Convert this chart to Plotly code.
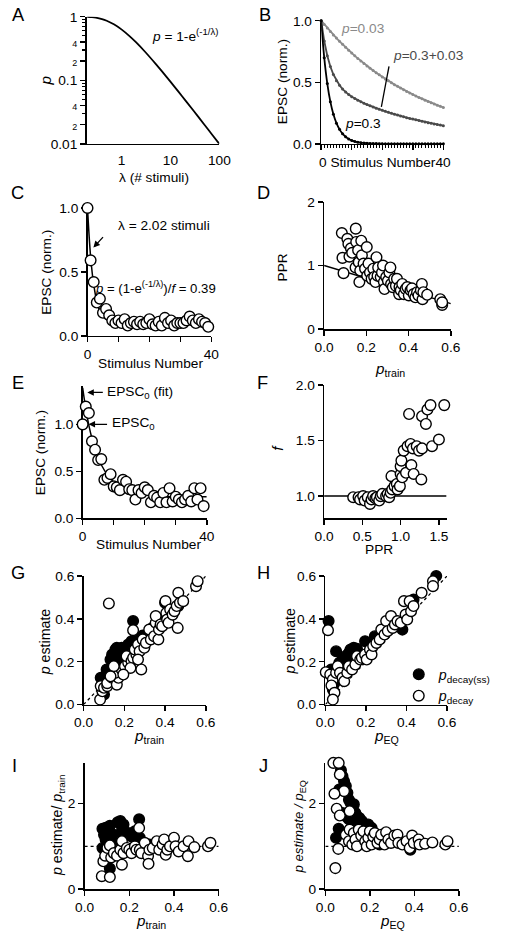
import plotly.graph_objects as go

# ---------------- DATA ----------------
# A
A_lambda = [0.2, 0.25, 0.3, 0.4, 0.5, 0.7, 1, 1.5, 2, 3, 5, 7, 10, 15, 20, 30, 50, 70, 100]
A_p = [0.9933, 0.9817, 0.9643, 0.918, 0.8647, 0.7603, 0.6321, 0.4866, 0.3935, 0.2835, 0.1813,
       0.1331, 0.0952, 0.0645, 0.0488, 0.0328, 0.0198, 0.0142, 0.00995]

# B
B_n = list(range(41))
B_p003 = [1.000, 0.970, 0.941, 0.913, 0.885, 0.859, 0.833, 0.808, 0.784, 0.760, 0.737, 0.715, 0.694,
          0.673, 0.653, 0.633, 0.614, 0.596, 0.578, 0.561, 0.544, 0.527, 0.512, 0.496, 0.481, 0.467,
          0.453, 0.439, 0.426, 0.413, 0.401, 0.389, 0.377, 0.366, 0.355, 0.344, 0.334, 0.324, 0.314,
          0.305, 0.296]
B_p03 = [1.000, 0.700, 0.490, 0.343, 0.240, 0.168, 0.118, 0.082, 0.058, 0.040, 0.028, 0.020, 0.014,
         0.010, 0.007, 0.005, 0.003, 0.002, 0.002, 0.001, 0.001, 0.0, 0.0, 0.0, 0.0, 0.0, 0.0, 0.0,
         0.0, 0.0, 0.0, 0.0, 0.0, 0.0, 0.0, 0.0, 0.0, 0.0, 0.0, 0.0, 0.0]
B_mix = [1.000, 0.835, 0.716, 0.628, 0.563, 0.513, 0.476, 0.445, 0.421, 0.400, 0.383, 0.368, 0.354,
         0.342, 0.330, 0.319, 0.309, 0.299, 0.290, 0.281, 0.272, 0.264, 0.256, 0.248, 0.241, 0.234,
         0.227, 0.220, 0.213, 0.207, 0.201, 0.195, 0.189, 0.183, 0.178, 0.172, 0.167, 0.162, 0.157,
         0.153, 0.148]

# C
C_n = list(range(40))
C_epsc = [1.0, 0.59, 0.42, 0.26, 0.29, 0.18, 0.21, 0.16, 0.12, 0.10, 0.12, 0.10, 0.13, 0.08, 0.10,
          0.11, 0.09, 0.11, 0.09, 0.10, 0.13, 0.09, 0.08, 0.11, 0.08, 0.14, 0.10, 0.12, 0.08, 0.10,
          0.10, 0.10, 0.12, 0.15, 0.12, 0.10, 0.13, 0.11, 0.10, 0.07]
C_fit_n = [0, 1, 2, 3, 4, 5, 6]
C_fit = [1.0, 0.62, 0.40, 0.27, 0.19, 0.15, 0.13]

# D
D_p = [0.084, 0.087, 0.092, 0.11, 0.115, 0.12, 0.127, 0.133, 0.15, 0.149, 0.152, 0.161, 0.164, 0.167,
       0.171, 0.176, 0.179, 0.187, 0.194, 0.202, 0.204, 0.21, 0.217, 0.225, 0.233, 0.237, 0.243,
       0.248, 0.253, 0.256, 0.268, 0.274, 0.279, 0.283, 0.286, 0.294, 0.302, 0.309, 0.314, 0.317,
       0.325, 0.332, 0.34, 0.345, 0.355, 0.357, 0.363, 0.37, 0.378, 0.386, 0.394, 0.401, 0.409,
       0.416, 0.424, 0.432, 0.44, 0.447, 0.458, 0.463, 0.466, 0.47, 0.488, 0.55, 0.559, 0.559]
D_ppr = [1.51, 1.12, 0.88, 1.42, 1.34, 1.14, 1.27, 1.20, 1.58, 0.97, 1.37, 1.24, 1.05, 0.74, 0.92,
         1.39, 1.16, 1.03, 0.95, 1.29, 0.84, 1.03, 0.89, 0.79, 0.95, 0.82, 0.74, 1.13, 0.84, 0.97,
         0.82, 0.89, 1.0, 0.74, 0.63, 0.82, 0.76, 0.89, 0.97, 0.71, 0.66, 0.79, 0.68, 0.79, 0.55,
         0.66, 0.61, 0.71, 0.55, 0.63, 0.66, 0.53, 0.61, 0.64, 0.55, 0.50, 0.58, 0.53, 0.61, 0.71,
         0.47, 0.58, 0.54, 0.47, 0.38, 0.42]
D_fit_p = [0.0, 0.6]
D_fit = [1.0, 0.4]

# E
E_n = list(range(40))
E_epsc = [1.0, 1.19, 1.12, 0.82, 0.73, 0.62, 0.63, 0.41, 0.43, 0.47, 0.34, 0.33, 0.30, 0.41, 0.39,
          0.31, 0.30, 0.20, 0.30, 0.27, 0.33, 0.30, 0.17, 0.24, 0.22, 0.17, 0.27, 0.17, 0.32, 0.18,
          0.23, 0.20, 0.17, 0.20, 0.24, 0.18, 0.32, 0.20, 0.32, 0.13]
E_fit_n = [0, 1, 2, 3, 4, 5, 6, 8, 10, 12, 15, 20, 25, 30, 40]
E_fit = [1.39, 1.17, 0.99, 0.85, 0.74, 0.64, 0.57, 0.46, 0.38, 0.33, 0.28, 0.25, 0.235, 0.23, 0.23]

# F
F_ppr = [0.38, 0.45, 0.47, 0.51, 0.53, 0.57, 0.60, 0.62, 0.64, 0.67, 0.69, 0.72, 0.74, 0.76, 0.81,
         0.83, 0.85, 0.87, 0.88, 0.89, 0.92, 0.95, 0.96, 0.99, 1.0, 1.0, 1.01, 1.02, 1.04, 1.07,
         1.09, 1.11, 1.13, 1.14, 1.16, 1.17, 1.21, 1.24, 1.27, 1.28, 1.28, 1.33, 1.35, 1.39, 1.41,
         1.5, 1.57]
F_f = [0.99, 0.99, 0.97, 1.0, 0.96, 0.99, 0.93, 0.97, 1.0, 0.98, 0.99, 0.96, 1.0, 1.02, 1.0, 1.02,
       0.99, 1.03, 1.18, 1.06, 1.09, 1.11, 1.06, 1.09, 1.2, 1.27, 1.32, 1.17, 1.41, 1.21, 1.45, 1.74,
       1.47, 1.28, 1.43, 1.2, 1.45, 1.41, 1.15, 1.43, 1.72, 1.65, 1.78, 1.82, 1.45, 1.51, 1.82]
F_ref_x = [0.0, 1.6]
F_ref_y = [1.0, 1.0]

# G  (x = p_train)
G_ss_x = [0.565, 0.243, 0.084, 0.113, 0.1, 0.132, 0.14, 0.156, 0.163, 0.171, 0.179, 0.148, 0.187,
          0.195, 0.219, 0.235, 0.251, 0.267, 0.29, 0.338, 0.386, 0.40, 0.437, 0.465, 0.163, 0.129, 0.187]
G_ss_y = [0.603, 0.39, 0.125, 0.164, 0.047, 0.21, 0.234, 0.257, 0.265, 0.249, 0.226, 0.21, 0.265,
          0.241, 0.28, 0.296, 0.304, 0.31, 0.322, 0.358, 0.39, 0.475, 0.428, 0.46, 0.195, 0.164, 0.21]
G_d_x = [0.124, 0.243, 0.283, 0.081, 0.092, 0.084, 0.1, 0.116, 0.116, 0.14, 0.163, 0.171, 0.156,
         0.187, 0.203, 0.219, 0.211, 0.235, 0.243, 0.259, 0.251, 0.267, 0.275, 0.29, 0.298, 0.306,
         0.322, 0.33, 0.346, 0.354, 0.354, 0.367, 0.37, 0.378, 0.386, 0.402, 0.406, 0.41, 0.417,
         0.425, 0.437, 0.446, 0.457, 0.462, 0.465, 0.473, 0.489, 0.552, 0.56, 0.267, 0.23, 0.195,
         0.148, 0.132]
G_d_y = [0.472, 0.347, 0.164, 0.023, 0.062, 0.086, 0.078, 0.086, 0.10, 0.125, 0.093, 0.125, 0.148,
         0.164, 0.179, 0.195, 0.226, 0.203, 0.218, 0.234, 0.257, 0.28, 0.249, 0.304, 0.265, 0.288,
         0.35, 0.304, 0.319, 0.382, 0.413, 0.304, 0.35, 0.374, 0.366, 0.483, 0.428, 0.397, 0.382,
         0.444, 0.42, 0.436, 0.46, 0.358, 0.522, 0.475, 0.483, 0.553, 0.576, 0.21, 0.171, 0.14,
         0.179, 0.132]

# H  (x = p_EQ)
H_ss_x = [0.016, 0.053, 0.547, 0.037, 0.045, 0.029, 0.069, 0.085, 0.1, 0.116, 0.124, 0.14, 0.156,
          0.196, 0.244, 0.284, 0.324, 0.38, 0.435, 0.093, 0.132]
H_ss_y = [0.39, 0.249, 0.6, 0.07, 0.10, 0.164, 0.195, 0.21, 0.226, 0.241, 0.257, 0.265, 0.26,
          0.296, 0.319, 0.343, 0.366, 0.35, 0.49, 0.164, 0.21]
H_d_x = [0.013, 0.002, 0.024, 0.037, 0.03, 0.045, 0.037, 0.053, 0.061, 0.072, 0.085, 0.093, 0.108,
         0.116, 0.132, 0.148, 0.156, 0.172, 0.18, 0.196, 0.204, 0.22, 0.228, 0.236, 0.252, 0.268,
         0.276, 0.292, 0.3, 0.308, 0.324, 0.332, 0.343, 0.356, 0.372, 0.388, 0.396, 0.404, 0.416,
         0.423, 0.435, 0.475, 0.531, 0.531]
H_d_y = [0.347, 0.151, 0.14, 0.117, 0.089, 0.055, 0.023, 0.148, 0.179, 0.148, 0.125, 0.109, 0.148,
         0.179, 0.164, 0.187, 0.226, 0.21, 0.218, 0.234, 0.21, 0.257, 0.234, 0.273, 0.288, 0.304,
         0.35, 0.327, 0.39, 0.343, 0.413, 0.358, 0.374, 0.39, 0.382, 0.483, 0.42, 0.397, 0.483,
         0.436, 0.46, 0.522, 0.576, 0.553]

# I  (x = p_train, y = p estimate / p_train)
I_ss_x = [0.08, 0.094, 0.113, 0.094, 0.113, 0.131, 0.148, 0.16, 0.167, 0.174, 0.167, 0.182, 0.196,
          0.21, 0.225, 0.244, 0.247, 0.087, 0.154, 0.125, 0.262, 0.29, 0.08]
I_ss_y = [1.41, 1.43, 1.48, 1.16, 0.48, 1.27, 1.56, 1.59, 1.47, 1.51, 1.35, 1.27, 1.31, 1.23, 1.35,
          1.63, 1.2, 1.27, 1.16, 1.12, 1.08, 1.04, 0.96]
I_d_x = [0.077, 0.113, 0.084, 0.092, 0.102, 0.113, 0.119, 0.131, 0.145, 0.16, 0.167, 0.167, 0.174,
         0.189, 0.2, 0.21, 0.225, 0.232, 0.244, 0.247, 0.254, 0.269, 0.284, 0.286, 0.29, 0.305,
         0.323, 0.334, 0.349, 0.356, 0.363, 0.37, 0.382, 0.4, 0.407, 0.421, 0.443, 0.462, 0.465,
         0.491, 0.552, 0.563]
I_d_y = [0.3, 0.28, 0.65, 0.78, 0.96, 1.02, 0.74, 0.84, 0.78, 0.92, 0.57, 1.12, 0.84, 0.96, 0.92,
         0.84, 1.0, 0.92, 1.43, 0.92, 0.84, 1.08, 0.77, 0.59, 0.92, 0.96, 1.12, 0.92, 1.04, 1.16,
         0.8, 0.92, 1.0, 1.2, 1.0, 0.88, 1.0, 0.77, 1.12, 0.98, 1.0, 1.08]

# J  (x = p_EQ, y = p estimate / p_EQ)
J_ss_x = [0.048, 0.06, 0.07, 0.077, 0.084, 0.092, 0.099, 0.106, 0.113, 0.121, 0.128, 0.135, 0.142,
          0.153, 0.164, 0.179, 0.193, 0.208, 0.106, 0.121, 0.092, 0.077, 0.244, 0.382, 0.0625]
J_ss_y = [1.2, 1.41, 2.78, 2.64, 2.52, 2.41, 2.25, 2.09, 2.02, 1.9, 1.98, 1.78, 1.7, 1.66, 1.59,
          1.51, 1.51, 1.43, 1.63, 1.55, 1.70, 1.78, 1.04, 0.92, 2.33]
J_d_x = [0.036, 0.06, 0.065, 0.084, 0.041, 0.051, 0.065, 0.045, 0.058, 0.109, 0.092, 0.106, 0.109,
         0.121, 0.128, 0.135, 0.142, 0.15, 0.161, 0.171, 0.179, 0.186, 0.193, 0.2, 0.208, 0.215,
         0.222, 0.234, 0.244, 0.251, 0.266, 0.273, 0.283, 0.295, 0.31, 0.324, 0.328, 0.346, 0.365,
         0.379, 0.39, 0.397, 0.419, 0.423, 0.448, 0.481, 0.539, 0.549]
J_d_y = [2.95, 2.95, 2.68, 2.29, 2.23, 1.88, 1.72, 0.49, 0.94, 1.82, 1.27, 1.12, 1.39, 1.04, 1.31,
         1.16, 1.0, 1.39, 1.25, 1.35, 1.12, 1.0, 1.2, 1.35, 1.04, 1.23, 1.31, 1.08, 1.16, 1.27, 1.04,
         1.33, 1.16, 1.08, 1.25, 1.27, 1.08, 1.04, 1.12, 0.96, 1.25, 1.08, 1.16, 1.04, 1.06, 1.09,
         1.04, 1.12]

# identity / unity reference lines
DIAG = [0.0, 0.6]
UNITY_X = [0.0, 0.6]
UNITY_Y = [1.0, 1.0]

# ---------------- LAYOUT HELPERS ----------------
W, H = 512, 936
FONT = "Liberation Sans, Arial, Helvetica, sans-serif"
# the photographed page is slightly shrunk and shifted; compensate so that target pixels land right
SX, OX = 0.987, 3.07
SY, OY = 0.9828, 8.3
FS = 1.0 / 0.985
TICK = 13.5 * FS


def px(x):
    return ((x - OX) / SX) / W


def py(y):
    return 1 - ((y - OY) / SY) / H


def ax_style(**kw):
    d = dict(showline=True, linecolor="black", linewidth=1.5, ticks="outside", ticklen=5,
             tickwidth=1.5, tickcolor="black", showgrid=False, zeroline=False,
             layer="below traces", tickfont=dict(family=FONT, size=TICK, color="black"),
             fixedrange=True)
    d.update(kw)
    return d


# panel: (index, left, right, top, bottom) in target pixels
P = {
    "A": (1, 82, 219, 18, 145),
    "B": (2, 324, 450, 22, 145),
    "C": (3, 83, 210.7, 209, 336.7),
    "D": (4, 327, 457.7, 203, 330),
    "E": (5, 78, 206, 386.7, 519),
    "F": (6, 327, 453.3, 386, 519),
    "G": (7, 79, 205, 576.7, 705),
    "H": (8, 328.3, 453.7, 576.7, 705),
    "I": (9, 80, 218.3, 763.3, 889.3),
    "J": (10, 328.3, 466, 763.3, 889.3),
}


def ref(panel):
    i = P[panel][0]
    return ("x" if i == 1 else f"x{i}"), ("y" if i == 1 else f"y{i}")


fig = go.Figure()

MS = 10.5 * FS
open_m = dict(symbol="circle", size=MS, color="white", line=dict(color="black", width=1.4))
fill_m = dict(symbol="circle", size=MS, color="black", line=dict(color="black", width=1.4))


def add(panel, **kw):
    xa, ya = ref(panel)
    kw.setdefault("showlegend", False)
    kw.setdefault("cliponaxis", False)
    kw.setdefault("hoverinfo", "skip")
    fig.add_trace(go.Scatter(xaxis=xa, yaxis=ya, **kw))


# A
add("A", x=A_lambda, y=A_p, mode="lines", line=dict(color="black", width=1.8, shape="spline"))
# B
add("B", x=B_n, y=B_p003, mode="lines+markers", line=dict(color="#8a8a8a", width=1.8),
    marker=dict(size=3, color="#8a8a8a"))
add("B", x=B_n, y=B_mix, mode="lines+markers", line=dict(color="#4a4a4a", width=1.8),
    marker=dict(size=3, color="#4a4a4a"))
add("B", x=B_n, y=B_p03, mode="lines+markers", line=dict(color="black", width=1.8, shape="spline"),
    marker=dict(size=3, color="black"))
# C
add("C", x=C_fit_n, y=C_fit, mode="lines", line=dict(color="black", width=1.5, shape="spline"))
add("C", x=C_n, y=C_epsc, mode="markers", marker=open_m)
# D
add("D", x=D_fit_p, y=D_fit, mode="lines", line=dict(color="black", width=1.5))
add("D", x=D_p, y=D_ppr, mode="markers", marker=open_m)
# E
add("E", x=E_fit_n, y=E_fit, mode="lines", line=dict(color="black", width=1.5, shape="spline"))
add("E", x=E_n, y=E_epsc, mode="markers", marker=open_m)
# F
add("F", x=F_ref_x, y=F_ref_y, mode="lines", line=dict(color="black", width=1.5))
add("F", x=F_ppr, y=F_f, mode="markers", marker=open_m)
# G
add("G", x=DIAG, y=DIAG, mode="lines", line=dict(color="black", width=1.3, dash="dot"))
add("G", x=G_ss_x, y=G_ss_y, mode="markers", marker=fill_m)
add("G", x=G_d_x, y=G_d_y, mode="markers", marker=open_m)
# H
add("H", x=DIAG, y=DIAG, mode="lines", line=dict(color="black", width=1.3, dash="dot"))
add("H", x=H_ss_x, y=H_ss_y, mode="markers", marker=fill_m, showlegend=True,
    name="<i>p</i><sub>decay(ss)</sub>")
add("H", x=H_d_x, y=H_d_y, mode="markers", marker=open_m, showlegend=True,
    name="<i>p</i><sub>decay</sub>")
# I
add("I", x=UNITY_X, y=UNITY_Y, mode="lines", line=dict(color="black", width=1.3, dash="3px,3px"))
add("I", x=I_ss_x, y=I_ss_y, mode="markers", marker=fill_m)
add("I", x=I_d_x, y=I_d_y, mode="markers", marker=open_m)
# J
add("J", x=UNITY_X, y=UNITY_Y, mode="lines", line=dict(color="black", width=1.3, dash="3px,3px"))
add("J", x=J_ss_x, y=J_ss_y, mode="markers", marker=fill_m)
add("J", x=J_d_x, y=J_d_y, mode="markers", marker=open_m)


# ---------------- AXES ----------------
def small(s):
    return f"<span style='font-size:9px'>{s}</span>"


stim_minor = dict(tickvals=[10, 20, 30], ticks="outside", ticklen=5, tickwidth=1.5, tickcolor="black")

axis_kw = {
    "A": (dict(type="log", range=[-0.713, 2], tickvals=[1, 10, 100], ticktext=["1", "10", "100"],
               ticklen=3, tickcolor="rgba(0,0,0,0)"),
          dict(type="log", range=[-2, 0], tickvals=[0.01, 0.02, 0.04, 0.1, 0.2, 0.4, 1],
               ticktext=["0.01", small("2"), small("4"), "0.1", small("2"), small("4"), "1"],
               minor=dict(tickvals=[0.03, 0.05, 0.06, 0.07, 0.08, 0.09, 0.3, 0.5, 0.6, 0.7, 0.8, 0.9],
                          ticks="outside", ticklen=3, tickwidth=1.2, tickcolor="black"))),
    "B": (dict(range=[0, 40], tick0=0, dtick=10, showticklabels=False,
               minor=dict(dtick=1, ticks="outside", ticklen=3, tickwidth=1, tickcolor="black")),
          dict(range=[0, 1], tickvals=[0, 0.5, 1], tickformat=".1f")),
    "C": (dict(range=[0, 40], tickvals=[0, 40], minor=stim_minor),
          dict(range=[0, 1], tickvals=[0, 0.5, 1], tickformat=".1f")),
    "D": (dict(range=[0, 0.6], tickvals=[0, 0.2, 0.4, 0.6], tickformat=".1f"),
          dict(range=[0, 2], tickvals=[0, 1, 2])),
    "E": (dict(range=[0, 40], tickvals=[0, 40], minor=stim_minor),
          dict(range=[0, 1.41], tickvals=[0, 0.5, 1], tickformat=".1f")),
    "F": (dict(range=[0, 1.6], tickvals=[0, 0.5, 1, 1.5], tickformat=".1f"),
          dict(range=[0.8, 2.0], tickvals=[1, 1.5, 2], tickformat=".1f")),
    "G": (dict(range=[0, 0.6], tickvals=[0, 0.2, 0.4, 0.6], tickformat=".1f"),
          dict(range=[0, 0.6], tickvals=[0, 0.2, 0.4, 0.6], tickformat=".1f")),
    "H": (dict(range=[0, 0.6], tickvals=[0, 0.2, 0.4, 0.6], tickformat=".1f"),
          dict(range=[0, 0.6], tickvals=[0, 0.2, 0.4, 0.6], tickformat=".1f")),
    "I": (dict(range=[0, 0.6], tickvals=[0, 0.2, 0.4, 0.6], tickformat=".1f"),
          dict(range=[0, 2.95], tickvals=[0, 2])),
    "J": (dict(range=[0, 0.6], tickvals=[0, 0.2, 0.4, 0.6], tickformat=".1f"),
          dict(range=[0, 2.95], tickvals=[0, 2])),
}

layout = dict(width=W, height=H, margin=dict(l=0, r=0, t=0, b=0), paper_bgcolor="white",
              plot_bgcolor="white", font=dict(family=FONT, size=TICK, color="black"))
for panel, (i, l, r, t, b) in P.items():
    xk = "xaxis" if i == 1 else f"xaxis{i}"
    yk = "yaxis" if i == 1 else f"yaxis{i}"
    xa, ya = ref(panel)
    xkw, ykw = axis_kw[panel]
    layout[xk] = ax_style(domain=[px(l), px(r)], anchor=ya, **xkw)
    layout[yk] = ax_style(domain=[py(b), py(t)], anchor=xa, **ykw)

layout["legend"] = dict(x=px(404), y=py(659), xanchor="left", yanchor="top",
                        bgcolor="rgba(0,0,0,0)", font=dict(family=FONT, size=14 * FS),
                        itemwidth=30, tracegroupgap=0, itemclick=False)
fig.update_layout(**layout)

# ---------------- ANNOTATIONS ----------------
ann = []


def text(x, y, s, size=TICK, angle=0, xanchor="center", yanchor="middle", color="black"):
    ann.append(dict(x=px(x), y=py(y), xref="paper", yref="paper", text=s, showarrow=False,
                    textangle=angle, xanchor=xanchor, yanchor=yanchor,
                    font=dict(family=FONT, size=size, color=color)))


# panel letters
for letter, (x, y) in {"A": (12, 16), "B": (266, 16), "C": (11, 194), "D": (265, 194),
                       "E": (11, 383), "F": (263, 383), "G": (11, 573), "H": (264, 573),
                       "I": (8, 766), "J": (264, 766)}.items():
    text(x, y, letter, size=18 * FS)

# axis titles
text(40, 82, "<i>p</i>", size=15 * FS, angle=-90)
text(152, 179, "λ (# stimuli)")
text(284, 83, "EPSC (norm.)", angle=-90)
text(320, 164, "0 Stimulus Number40", xanchor="left")
text(40, 273, "EPSC (norm.)", angle=-90)
text(148, 364, "Stimulus Number")
text(284, 268, "PPR", angle=-90)
text(395, 370, "<i>p</i><sub>train</sub>", size=15 * FS)
text(34, 453, "EPSC (norm.)", angle=-90)
text(146, 545, "Stimulus Number")
text(279, 449, "<i>f</i>", size=15 * FS, angle=-90)
text(384, 550, "PPR")
text(40, 642, "<i>p</i> estimate", size=14 * FS, angle=-90)
text(146, 737, "<i>p</i><sub>train</sub>", size=15 * FS)
text(292, 642, "<i>p</i> estimate", size=14 * FS, angle=-90)
text(391, 737, "<i>p</i><sub>EQ</sub>", size=15 * FS)
text(52, 825, "<i>p</i> estimate/ <i>p</i><sub>train</sub>", size=14 * FS, angle=-90)
text(148, 922, "<i>p</i><sub>train</sub>", size=15 * FS)
text(302, 827, "<i>p estimate / p</i><sub>EQ</sub>", size=13 * FS, angle=-90)
text(398, 922, "<i>p</i><sub>EQ</sub>", size=15 * FS)

# in-panel texts
text(147, 36, "<i>p</i> = 1-e<sup>(-1/λ)</sup>", xanchor="left")
text(342, 30, "<i>p</i>=0.03", color="#8a8a8a", xanchor="left")
text(396, 57, "<i>p</i>=0.3+0.03", color="#4a4a4a", xanchor="left")
text(346, 125, "<i>p</i>=0.3", xanchor="left")
text(112, 227, "λ = 2.02 stimuli", xanchor="left")
text(89, 288, "<i>p</i> = (1-e<sup>(-1/λ)</sup>)/<i>f</i> = 0.39", size=13 * FS, xanchor="left")
text(101, 393, "EPSC<sub>0</sub> (fit)", xanchor="left")
text(106, 424, "EPSC<sub>0</sub>", xanchor="left")

# arrows / pointer lines (data coordinates of their panels)
xa, ya = ref("C")
ann.append(dict(x=1.9, y=0.69, xref=xa, yref=ya, ax=11, ay=-12, showarrow=True, arrowhead=2,
                arrowsize=1, arrowwidth=1.3, arrowcolor="black", text=""))
xa, ya = ref("E")
ann.append(dict(x=1.5, y=1.34, xref=xa, yref=ya, ax=17, ay=0, showarrow=True, arrowhead=2,
                arrowsize=1, arrowwidth=1.3, arrowcolor="black", text=""))
ann.append(dict(x=1.9, y=1.0, xref=xa, yref=ya, ax=20, ay=0, showarrow=True, arrowhead=2,
                arrowsize=1, arrowwidth=1.3, arrowcolor="black", text=""))
xa, ya = ref("B")
fig.add_shape(type="line", xref=xa, yref=ya, x0=22.2, y0=0.63, x1=19.7, y1=0.3,
              line=dict(color="black", width=1.3))

fig.update_layout(annotations=ann)
fig.write_html(
    "out.html",
    config={"displayModeBar": False, "staticPlot": True},
    post_script="document.body.style.margin='0';document.body.style.padding='0';"
                "document.body.style.overflow='hidden';"
                "document.documentElement.style.overflow='hidden';",
)
